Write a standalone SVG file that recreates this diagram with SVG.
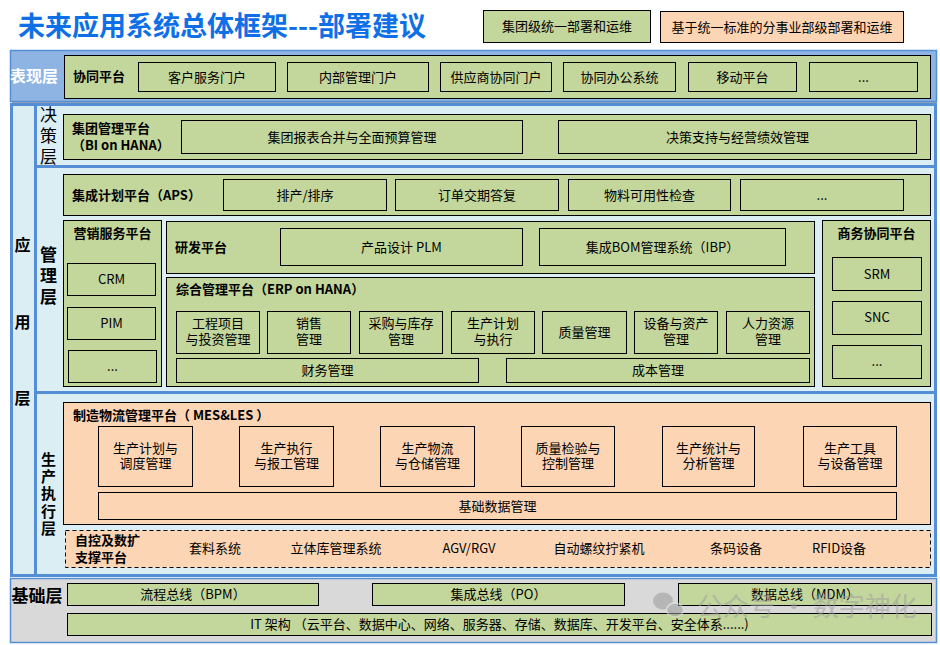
<svg xmlns="http://www.w3.org/2000/svg" width="940" height="645" viewBox="0 0 940 645">
<style>
text{font-family:"Noto Sans CJK SC","Microsoft YaHei",sans-serif;fill:#000}
.g{fill:#C3D69B;stroke:#000;stroke-width:1}
.p{fill:#FCD5B5;stroke:#000;stroke-width:1}
.pd{fill:#FCD5B5;stroke:#000;stroke-width:1;stroke-dasharray:4 3}
.t{font-size:13px;text-anchor:middle}
.h{font-size:13px;font-weight:bold}
.hc{font-size:13px;font-weight:bold;text-anchor:middle}
.lay{font-size:16px;font-weight:bold;text-anchor:middle}
.vert{writing-mode:vertical-rl;text-orientation:upright}
</style>
<rect width="940" height="645" fill="#fff"/>
<text x="18" y="36" style="font-size:27px;font-weight:bold;fill:#0E6FE6">未来应用系统总体框架---部署建议</text>
<g id="legend-group">
<rect class="g" x="483.5" y="10.5" width="167" height="32"/>
<text class="t" x="567" y="31">集团级统一部署和运维</text>
</g>
<g id="legend-bu">
<rect class="p" x="660.5" y="11.5" width="243" height="31"/>
<text class="t" x="782" y="31.5">基于统一标准的分事业部级部署和运维</text>
</g>

<g id="layer-presentation">
<rect x="12" y="101" width="925" height="2.5" fill="#A6A6A6"/>
<rect x="10.5" y="50.5" width="926" height="51" fill="#8EB4E3" stroke="#558ED5" stroke-width="1.5"/>
<text class="lay" x="34" y="82" style="fill:#fff">表现层</text>
<rect class="g" x="64.5" y="55.5" width="866" height="43"/>
<text class="h" x="73" y="81">协同平台</text>
<rect class="g" x="138.5" y="62.5" width="137" height="29"/><text class="t" x="207" y="81.5">客户服务门户</text>
<rect class="g" x="287.5" y="62.5" width="141" height="29"/><text class="t" x="358" y="81.5">内部管理门户</text>
<rect class="g" x="440.5" y="62.5" width="111" height="29"/><text class="t" x="496" y="81.5">供应商协同门户</text>
<rect class="g" x="563.5" y="62.5" width="112" height="29"/><text class="t" x="619.5" y="81.5">协同办公系统</text>
<rect class="g" x="688.5" y="62.5" width="108" height="29"/><text class="t" x="742.5" y="81.5">移动平台</text>
<rect class="g" x="809.5" y="62.5" width="108" height="29"/><text class="t" x="863.5" y="81.5">...</text>
</g>

<g id="layer-application">
<rect x="11.5" y="104.5" width="924" height="471" fill="#DBEEF4" stroke="#558ED5" stroke-width="3"/>
<line x1="35.5" y1="104" x2="35.5" y2="576" stroke="#558ED5" stroke-width="3"/>
<line x1="35" y1="166.5" x2="936" y2="166.5" stroke="#558ED5" stroke-width="3"/>
<line x1="35" y1="392.5" x2="936" y2="392.5" stroke="#558ED5" stroke-width="3"/>
<text class="lay" x="22.5" y="251">应</text>
<text class="lay" x="22.5" y="328">用</text>
<text class="lay" x="22.5" y="404">层</text>
</g>

<g id="layer-decision">
<text class="vert" x="48.5" y="106.5" style="font-size:17px;letter-spacing:4px">决策层</text>
<rect class="g" x="63.5" y="114.5" width="867" height="45"/>
<text class="h"><tspan x="72" y="133">集团管理平台</tspan><tspan x="72" y="150">（BI on HANA）</tspan></text>
<rect class="g" x="181.5" y="120.5" width="341" height="33"/><text class="t" x="352" y="141.5">集团报表合并与全面预算管理</text>
<rect class="g" x="558.5" y="120.5" width="358" height="33"/><text class="t" x="737.5" y="141.5">决策支持与经营绩效管理</text>
</g>

<g id="layer-management">
<text class="vert" x="48.5" y="246.5" style="font-size:17px;font-weight:bold;letter-spacing:4px">管理层</text>
</g>

<g id="aps">
<rect class="g" x="63.5" y="174.5" width="867" height="41"/>
<text class="h" x="72" y="199.5">集成计划平台（APS）</text>
<rect class="g" x="223.5" y="179.5" width="163" height="31"/><text class="t" x="305" y="199.5">排产/排序</text>
<rect class="g" x="395.5" y="179.5" width="163" height="31"/><text class="t" x="477" y="199.5">订单交期答复</text>
<rect class="g" x="568.5" y="179.5" width="162" height="31"/><text class="t" x="649.5" y="199.5">物料可用性检查</text>
<rect class="g" x="740.5" y="179.5" width="163" height="31"/><text class="t" x="822" y="199.5">...</text>
</g>

<g id="marketing">
<rect class="g" x="63.5" y="220.5" width="98" height="166"/>
<text class="hc" x="112.5" y="237.5">营销服务平台</text>
<rect class="g" x="67.5" y="263.5" width="88" height="32"/><text class="t" x="111.5" y="284">CRM</text>
<rect class="g" x="67.5" y="307.5" width="88" height="32"/><text class="t" x="111.5" y="328">PIM</text>
<rect class="g" x="68.5" y="350.5" width="88" height="32"/><text class="t" x="112.5" y="371">...</text>
</g>

<g id="rd">
<rect class="g" x="166.5" y="221.5" width="648" height="52"/>
<text class="h" x="175" y="252">研发平台</text>
<rect class="g" x="280.5" y="228.5" width="242" height="37"/><text class="t" x="401.5" y="252">产品设计 PLM</text>
<rect class="g" x="539.5" y="228.5" width="246" height="37"/><text class="t" x="662.5" y="252">集成BOM管理系统（IBP）</text>
</g>

<g id="erp">
<rect class="g" x="166.5" y="277.5" width="648" height="109"/>
<text class="h" x="176" y="294">综合管理平台（ERP on HANA）</text>
<rect class="g" x="176.5" y="311.5" width="83" height="42"/><text class="t"><tspan x="218" y="328">工程项目</tspan><tspan x="218" y="344">与投资管理</tspan></text>
<rect class="g" x="267.5" y="311.5" width="83" height="42"/><text class="t"><tspan x="309" y="328">销售</tspan><tspan x="309" y="344">管理</tspan></text>
<rect class="g" x="359.5" y="311.5" width="83" height="42"/><text class="t"><tspan x="401" y="328">采购与库存</tspan><tspan x="401" y="344">管理</tspan></text>
<rect class="g" x="451.5" y="311.5" width="83" height="42"/><text class="t"><tspan x="493" y="328">生产计划</tspan><tspan x="493" y="344">与执行</tspan></text>
<rect class="g" x="542.5" y="311.5" width="84" height="42"/><text class="t" x="584.5" y="337">质量管理</text>
<rect class="g" x="634.5" y="311.5" width="83" height="42"/><text class="t"><tspan x="676" y="328">设备与资产</tspan><tspan x="676" y="344">管理</tspan></text>
<rect class="g" x="726.5" y="311.5" width="83" height="42"/><text class="t"><tspan x="768" y="328">人力资源</tspan><tspan x="768" y="344">管理</tspan></text>
<rect class="g" x="176.5" y="358.5" width="302" height="24"/><text class="t" x="327.5" y="375">财务管理</text>
<rect class="g" x="506.5" y="358.5" width="303" height="24"/><text class="t" x="658" y="375">成本管理</text>
</g>

<g id="business">
<rect class="g" x="822.5" y="220.5" width="108" height="166"/>
<text class="hc" x="876.5" y="237.5">商务协同平台</text>
<rect class="g" x="832.5" y="257.5" width="89" height="33"/><text class="t" x="877" y="278.5">SRM</text>
<rect class="g" x="832.5" y="301.5" width="89" height="33"/><text class="t" x="877" y="322">SNC</text>
<rect class="g" x="832.5" y="345.5" width="89" height="33"/><text class="t" x="877" y="366">...</text>
</g>

<g id="layer-execution">
<text class="vert" x="48.5" y="451.5" style="font-size:15px;font-weight:bold;letter-spacing:2.3px">生产执行层</text>
</g>

<g id="mes">
<rect class="p" x="63.5" y="402.5" width="867" height="122"/>
<text class="h" x="73" y="419.5">制造物流管理平台（ MES&amp;LES ）</text>
<rect class="p" x="98.5" y="426.5" width="94" height="60"/><text class="t"><tspan x="145.5" y="452.5">生产计划与</tspan><tspan x="145.5" y="468">调度管理</tspan></text>
<rect class="p" x="239.5" y="426.5" width="94" height="60"/><text class="t"><tspan x="286.5" y="452.5">生产执行</tspan><tspan x="286.5" y="468">与报工管理</tspan></text>
<rect class="p" x="380.5" y="426.5" width="94" height="60"/><text class="t"><tspan x="427.5" y="452.5">生产物流</tspan><tspan x="427.5" y="468">与仓储管理</tspan></text>
<rect class="p" x="521.5" y="426.5" width="93" height="60"/><text class="t"><tspan x="568" y="452.5">质量检验与</tspan><tspan x="568" y="468">控制管理</tspan></text>
<rect class="p" x="662.5" y="426.5" width="92" height="60"/><text class="t"><tspan x="708.5" y="452.5">生产统计与</tspan><tspan x="708.5" y="468">分析管理</tspan></text>
<rect class="p" x="803.5" y="426.5" width="93" height="60"/><text class="t"><tspan x="850" y="452.5">生产工具</tspan><tspan x="850" y="468">与设备管理</tspan></text>
<rect class="p" x="98.5" y="492.5" width="798" height="27"/><text class="t" x="497.5" y="510.5">基础数据管理</text>
</g>

<g id="automation">
<rect class="pd" x="65.5" y="530.5" width="865" height="37"/>
<text class="h"><tspan x="75" y="545">自控及数扩</tspan><tspan x="75" y="562">支撑平台</tspan></text>
<text class="t" x="215" y="553">套料系统</text>
<text class="t" x="336" y="553">立体库管理系统</text>
<text class="t" x="469" y="553">AGV/RGV</text>
<text class="t" x="599" y="553">自动螺纹拧紧机</text>
<text class="t" x="736" y="553">条码设备</text>
<text class="t" x="839" y="553">RFID设备</text>
</g>

<g id="layer-foundation">
<rect x="10.5" y="578.5" width="926" height="64" fill="#D9D9D9" stroke="#558ED5" stroke-width="1.5"/>
<text class="lay" x="37" y="602" style="font-size:17px">基础层</text>
<rect class="g" x="67.5" y="583.5" width="251" height="22"/><text class="t" x="193" y="599">流程总线（BPM）</text>
<rect class="g" x="372.5" y="583.5" width="252" height="22"/><text class="t" x="498.5" y="599">集成总线（PO）</text>
<rect class="g" x="678.5" y="583.5" width="253" height="22"/><text class="t" x="805" y="599">数据总线（MDM）</text>
<rect class="g" x="67.5" y="613.5" width="864" height="22"/><text class="t" x="499.5" y="629">IT 架构 （云平台、数据中心、网络、服务器、存储、数据库、开发平台、安全体系......)</text>
</g>

<g id="watermark" opacity="0.55">
<ellipse cx="663" cy="601" rx="10" ry="8.5" fill="#9A9A9A"/>
<ellipse cx="675" cy="610" rx="8.5" ry="7" fill="#9A9A9A" stroke="#E0E0E0" stroke-width="1.5"/>
<text x="697" y="616" style="font-size:26px;fill:#A0A0A0">公众号 · 数字神化</text>
</g>
</svg>
